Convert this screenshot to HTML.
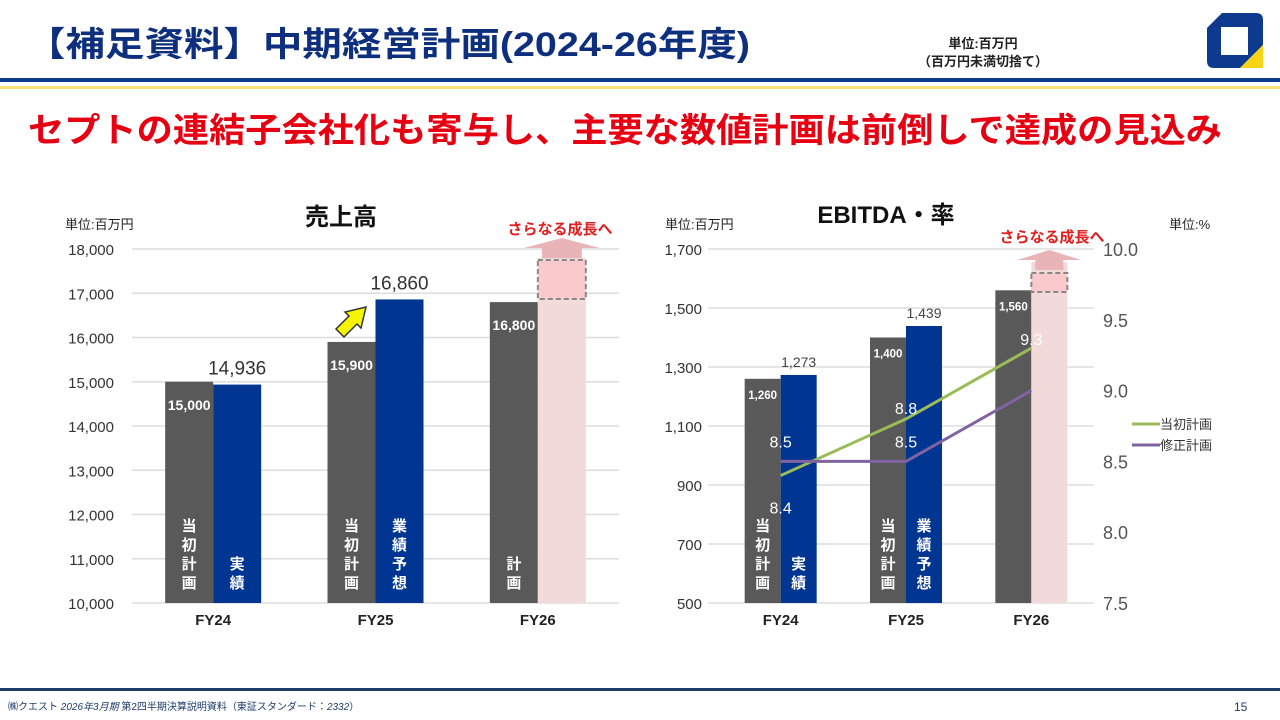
<!DOCTYPE html>
<html><head><meta charset="utf-8">
<style>
body{margin:0;width:1280px;height:720px;background:#fff;overflow:hidden;font-family:"Liberation Sans","Noto Sans CJK JP",sans-serif;}
svg{position:absolute;left:0;top:0}
text{font-family:"Liberation Sans","Noto Sans CJK JP",sans-serif}
</style></head><body>
<svg width="1280" height="720" id="s">
<g>
<text x="26" y="56" font-size="34" font-weight="bold" fill="#0d2f7e" textLength="724" lengthAdjust="spacingAndGlyphs">【補足資料】中期経営計画(2024-26年度)</text>
<text x="983" y="48" font-size="13" font-weight="bold" fill="#222" text-anchor="middle">単位:百万円</text>
<text x="983" y="66" font-size="13" font-weight="bold" fill="#222" text-anchor="middle">（百万円未満切捨て）</text>
<g>
<path d="M1222,13 L1256,13 Q1263,13 1263,20 L1263,45 L1240,68 L1214,68 Q1207,68 1207,61 L1207,28 Z" fill="#0d3a8f"/>
<rect x="1221" y="27" width="27" height="28" fill="#fff"/>
<path d="M1263,45 L1263,68 L1240,68 Z" fill="#f7d418"/>
</g>
<rect x="0" y="78" width="1280" height="4" fill="#0d3a8f"/>
<rect x="0" y="86" width="1280" height="3" fill="#f7e27a"/>
<text x="28" y="142" font-size="34" font-weight="bold" fill="#e60012" textLength="1194" lengthAdjust="spacingAndGlyphs">セプトの連結子会社化も寄与し、主要な数値計画は前倒しで達成の見込み</text>
</g>
<g id="c1"></g>
<g id="c2"></g>
<rect x="0" y="688" width="1280" height="3" fill="#1f3b6a"/>
<text x="8" y="710" font-size="10" fill="#1f3b6a">㈱クエスト  <tspan font-style="italic">2026年3月期</tspan> 第2四半期決算説明資料（東証スタンダード：<tspan font-style="italic">2332</tspan>）</text>
<text x="1234" y="711" font-size="12" fill="#1f3b6a">15</text>
</svg>
<script>
const categories=["FY24","FY25","FY26"];
const salesPlan=[15000,15900,16800];
const salesActual=[14936,16860,null];
const salesTicks=[10000,11000,12000,13000,14000,15000,16000,17000,18000];
const ebitdaPlan=[1260,1400,1560];
const ebitdaActual=[1273,1439,null];
const ebitdaTicks=[500,700,900,1100,1300,1500,1700];
const rateTicks=[7.5,8.0,8.5,9.0,9.5,10.0];
const rateInitial=[8.4,8.8,9.3];
const rateRevised=[8.5,8.5,9.0];
const NS="http://www.w3.org/2000/svg";
function mk(p,t,a,txt){const e=document.createElementNS(NS,t);for(const k in a)e.setAttribute(k,a[k]);if(txt!=null)e.textContent=txt;p.appendChild(e);return e;}
const fmt=v=>v.toLocaleString("en-US");
function vlabel(g,x,y,chars,col){chars.split("").forEach((c,i)=>{const t=mk(g,"text",{x:x,y:y+i*19,"font-size":15,"font-weight":"bold",fill:col,"text-anchor":"middle"},c);});}
function growth(g,x0,w,top,boxTop,boxBot,labelY,textX){
  const a=mk(g,"path",{d:`M${x0+4},${top+20} L${x0+4},${top+10} L${x0-14},${top+10} L${x0+w/2},${top} L${x0+w+14},${top+10} L${x0+w-4},${top+10} L${x0+w-4},${top+20} Z`,fill:"#e8b4b8"});
  
  const b=mk(g,"rect",{x:x0,y:boxTop,width:w,height:boxBot-boxTop,fill:"#f9c9cb",stroke:"#888","stroke-width":2,"stroke-dasharray":"5,3"});
  
  const t=mk(g,"text",{x:textX,y:labelY,"font-size":15,"font-weight":"bold",fill:"#e02020","text-anchor":"middle"},"さらなる成長へ");
  
}
// Chart 1
(function(){
 const g=document.getElementById("c1");
 const x0=132,x1=619,yb=603,yt=249,vmin=10000,vmax=18000;
 const y=v=>yb-(v-vmin)/(vmax-vmin)*(yb-yt);
 const cw=(x1-x0)/categories.length, bw=48;
 const cx=i=>x0+cw*(i+0.5);
 salesTicks.forEach(v=>{const l=mk(g,"line",{x1:x0,x2:x1,y1:y(v),y2:y(v),stroke:"#ddd","stroke-width":1.5});
  const t=mk(g,"text",{x:114,y:y(v)+6,"font-size":15,fill:"#333","text-anchor":"end"},fmt(v));});
 mk(g,"text",{x:65,y:229,"font-size":13,fill:"#222"},"単位:百万円");
 mk(g,"text",{x:341,y:225,"font-size":24,"font-weight":"bold",fill:"#111","text-anchor":"middle"},"売上高");
 categories.forEach((c,i)=>{
  const xc=cx(i);
  const pb=mk(g,"rect",{x:xc-bw,y:y(salesPlan[i]),width:bw,height:yb-y(salesPlan[i]),fill:"#595959"});
  
  const pl=mk(g,"text",{x:xc-bw/2,y:y(salesPlan[i])+28,"font-size":14,"font-weight":"bold",fill:"#fff","text-anchor":"middle"},fmt(salesPlan[i]));
  
  if(salesActual[i]!=null){
   const ab=mk(g,"rect",{x:xc,y:y(salesActual[i]),width:bw,height:yb-y(salesActual[i]),fill:"#003591"});
   
   const al=mk(g,"text",{x:xc+bw/2,y:y(salesActual[i])-10,"font-size":19,fill:"#333","text-anchor":"middle"},fmt(salesActual[i]));
   
  } else {
   const pk=mk(g,"rect",{x:xc,y:258,width:bw,height:yb-258,fill:"#f2d9da"});
   
   growth(g,xc,bw,238,260,299,234,560);
  }
  const xl=mk(g,"text",{x:xc,y:625,"font-size":15,"font-weight":"bold",fill:"#222","text-anchor":"middle"},c);
  
 });
 vlabel(g,cx(0)-bw/2,531,"当初計画","#fff");vlabel(g,cx(0)+bw/2,569,"実績","#fff");
 vlabel(g,cx(1)-bw/2,531,"当初計画","#fff");vlabel(g,cx(1)+bw/2,531,"業績予想","#fff");
 vlabel(g,cx(2)-bw/2,569,"計画","#fff");
 const ar=mk(g,"path",{d:"M336,329 L349,316 L345,312 L366,307 L361,328 L357,324 L344,337 Z",fill:"#f5f500",stroke:"#333","stroke-width":1.5});
 
})();
// Chart 2
(function(){
 const g=document.getElementById("c2");
 const x0=718,x1=1094,yb=603,yt=249,vmin=500,vmax=1700,rmin=7.5,rmax=10;
 const y=v=>yb-(v-vmin)/(vmax-vmin)*(yb-yt);
 const yr=v=>yb-(v-rmin)/(rmax-rmin)*(yb-yt);
 const cw=(x1-x0)/categories.length, bw=36;
 const cx=i=>x0+cw*(i+0.5);
 ebitdaTicks.forEach(v=>{const l=mk(g,"line",{x1:708,x2:x1,y1:y(v),y2:y(v),stroke:"#ddd","stroke-width":1.5});
  const t=mk(g,"text",{x:702,y:y(v)+6,"font-size":15,fill:"#333","text-anchor":"end"},fmt(v));});
 rateTicks.forEach(v=>{const t=mk(g,"text",{x:1103,y:yr(v)+7,"font-size":18,fill:"#555"},v.toFixed(1));});
 mk(g,"text",{x:665,y:229,"font-size":13,fill:"#222"},"単位:百万円");
 mk(g,"text",{x:1169,y:229,"font-size":13,fill:"#222"},"単位:%");
 mk(g,"text",{x:886,y:223,"font-size":24,"font-weight":"bold",fill:"#111","text-anchor":"middle"},"EBITDA・率");
 categories.forEach((c,i)=>{
  const xc=cx(i);
  const pb=mk(g,"rect",{x:xc-bw,y:y(ebitdaPlan[i]),width:bw,height:yb-y(ebitdaPlan[i]),fill:"#595959"});
  
  const pl=mk(g,"text",{x:xc-bw/2,y:y(ebitdaPlan[i])+20,"font-size":11.5,"font-weight":"bold",fill:"#fff","text-anchor":"middle"},fmt(ebitdaPlan[i]));
  
  if(ebitdaActual[i]!=null){
   const ab=mk(g,"rect",{x:xc,y:y(ebitdaActual[i]),width:bw,height:yb-y(ebitdaActual[i]),fill:"#003591"});
   
   const al=mk(g,"text",{x:xc+bw/2,y:y(ebitdaActual[i])-8,"font-size":14,fill:"#444","text-anchor":"middle"},fmt(ebitdaActual[i]));
   
  } else {
   const pk=mk(g,"rect",{x:xc,y:262,width:bw,height:yb-262,fill:"#f2d9da"});
   
   growth(g,xc,bw,250,273,292,242,1052);
  }
  const xl=mk(g,"text",{x:xc,y:625,"font-size":15,"font-weight":"bold",fill:"#222","text-anchor":"middle"},c);
  
 });
 vlabel(g,cx(0)-bw/2,531,"当初計画","#fff");vlabel(g,cx(0)+bw/2,569,"実績","#fff");
 vlabel(g,cx(1)-bw/2,531,"当初計画","#fff");vlabel(g,cx(1)+bw/2,531,"業績予想","#fff");
 const li=mk(g,"polyline",{points:rateInitial.map((v,i)=>cx(i)+","+yr(v)).join(" "),fill:"none",stroke:"#9bbb59","stroke-width":3});
 
 const lr=mk(g,"polyline",{points:rateRevised.map((v,i)=>cx(i)+","+yr(v)).join(" "),fill:"none",stroke:"#8064a2","stroke-width":3});
 
 rateInitial.forEach((v,i)=>{const dy=i==0?38:(i==1?-5:-3);const t=mk(g,"text",{x:cx(i),y:yr(v)+dy,"font-size":16,fill:"#fff","text-anchor":"middle"},v.toFixed(1));});
 rateRevised.forEach((v,i)=>{if(i==2)return;const t=mk(g,"text",{x:cx(i),y:yr(v)-14,"font-size":16,fill:"#fff","text-anchor":"middle"},v.toFixed(1));});
 [["当初計画","#9bbb59",424],["修正計画","#8064a2",445]].forEach(([n,c,yy])=>{
  const l=mk(g,"line",{x1:1132,x2:1160,y1:yy,y2:yy,stroke:c,"stroke-width":3});
  const t=mk(g,"text",{x:1160,y:yy+5,"font-size":13,fill:"#333"},n);
 });
})();
</script>
</body></html>
